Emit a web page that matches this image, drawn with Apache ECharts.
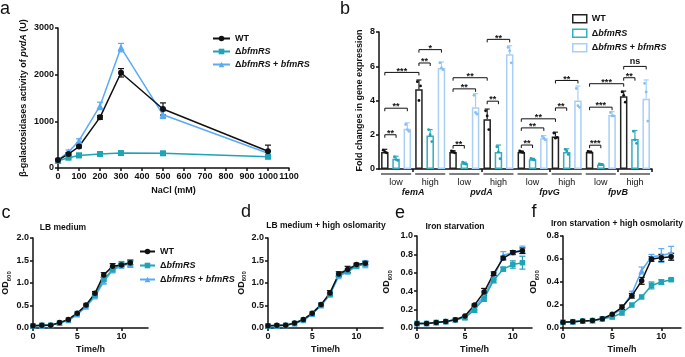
<!DOCTYPE html>
<html>
<head>
<meta charset="utf-8">
<script src="https://cdn.jsdelivr.net/npm/echarts@6/dist/echarts.min.js"></script>
<style>
  html, body { margin: 0; padding: 0; background: #fff; }
  #chart { width: 685px; height: 357px; }
</style>
</head>
<body>
<div id="chart"></div>
<script>
// ---- panel a: beta-galactosidase vs NaCl ----
const naclConc = [0, 50, 100, 200, 300, 500, 1000];
const aWT = [170, 300, 460, 1085, 2040, 1265, 360];
const aWTErr = [15, 30, 30, 40, 90, 130, 130];
const aDelta = [155, 220, 270, 300, 320, 315, 240];
const aDeltaErr = [15, 25, 45, 30, 25, 25, 35];
const aComp = [170, 345, 585, 1330, 2580, 1140, 315];
const aCompErr = [15, 40, 40, 80, 90, 80, 60];

// ---- panel b: fold changes ----
const bCats = ['low', 'high', 'low', 'high', 'low', 'high', 'low', 'high'];
const bGenes = ['femA', 'pvdA', 'fpvG', 'fpvB'];
const bWT = [1.0, 4.65, 1.0, 2.9, 1.0, 1.9, 1.0, 4.25];
const bWTErr = [0.15, 0.55, 0.07, 0.6, 0.05, 0.25, 0.04, 0.3];
const bDelta = [0.6, 1.95, 0.33, 1.0, 0.57, 1.0, 0.27, 1.75];
const bDeltaErr = [0.15, 0.35, 0.07, 0.4, 0.05, 0.18, 0.04, 0.5];
const bComp = [2.35, 5.9, 3.6, 6.7, 1.8, 4.0, 3.15, 4.1];
const bCompErr = [0.35, 0.35, 0.8, 0.5, 0.15, 0.85, 0.2, 1.1];
const bWTPts = [[1.1, 0.95, 1.0], [5.1, 4.85, 4.0], [1.05, 0.95, 1.0], [3.4, 2.3, 3.1],
  [1.05, 0.97, 1.0], [2.1, 1.85, 1.8], [1.03, 0.98, 1.0], [4.5, 3.9, 4.3]];
const bDeltaPts = [[0.7, 0.5, 0.55], [2.3, 1.6, 2.0], [0.4, 0.28, 0.33], [1.3, 0.6, 1.0],
  [0.62, 0.53, 0.57], [1.15, 0.85, 1.05], [0.3, 0.25, 0.27], [2.2, 1.5, 1.7]];
const bCompPts = [[2.6, 2.2, 2.3], [6.2, 5.8, 5.9], [4.3, 3.2, 3.3], [7.1, 6.2, 6.9],
  [1.9, 1.7, 1.8], [4.7, 3.6, 3.7], [3.3, 3.1, 3.1], [5.0, 2.8, 4.5]];
// [fromCategory, fromSeries, toCategory, toSeries, height]
const bBrackets = [
  [0, 0, 0, 1, 2.0], [0, 0, 0, 2, 3.55], [0, 0, 1, 0, 5.64], [1, 0, 1, 1, 6.19], [1, 0, 1, 2, 6.97],
  [2, 0, 2, 1, 1.37], [2, 0, 2, 2, 4.68], [2, 0, 3, 0, 5.33], [3, 0, 3, 1, 3.96], [3, 0, 3, 2, 7.57],
  [4, 0, 4, 1, 1.40], [4, 0, 4, 2, 2.4], [4, 0, 5, 0, 2.93], [5, 0, 5, 1, 3.57], [5, 0, 5, 2, 5.17],
  [6, 0, 6, 1, 1.39], [6, 0, 6, 2, 3.61], [6, 0, 7, 0, 4.98], [7, 0, 7, 1, 5.33], [7, 0, 7, 2, 5.99]
];
const bBracketLabels = ['**', '**', '***', '**', '*', '**', '**', '**', '**', '**',
  '**', '**', '**', '**', '**', '***', '***', '***', '**', 'ns'];

// ---- panels c-f: growth curves ----
const hours = [0, 1, 2, 3, 4, 5, 6, 7, 8, 9, 10, 11];
const cWT = [0.05, 0.06, 0.06, 0.12, 0.19, 0.33, 0.51, 0.77, 1.18, 1.37, 1.40, 1.45];
const cDelta = [0.05, 0.06, 0.06, 0.11, 0.18, 0.32, 0.50, 0.73, 1.08, 1.30, 1.43, 1.44];
const cComp = [0.05, 0.05, 0.06, 0.11, 0.17, 0.30, 0.47, 0.70, 1.03, 1.28, 1.38, 1.43];
const cWTErr = [0, 0, 0, 0, 0, 0, 0.02, 0.04, 0.05, 0.06, 0.03, 0.04];
const cDeltaErr = [0, 0, 0, 0, 0, 0, 0, 0.03, 0.04, 0.03, 0.04, 0.08];
const cCompErr = [0, 0, 0, 0, 0, 0, 0, 0.03, 0.04, 0.04, 0.04, 0.08];

const dWT = [0.05, 0.06, 0.06, 0.11, 0.19, 0.33, 0.52, 0.78, 1.20, 1.30, 1.41, 1.44];
const dDelta = [0.05, 0.05, 0.06, 0.10, 0.18, 0.32, 0.51, 0.75, 1.18, 1.27, 1.38, 1.43];
const dComp = [0.05, 0.05, 0.06, 0.10, 0.17, 0.31, 0.50, 0.74, 1.15, 1.25, 1.37, 1.42];
const dWTErr = [0, 0, 0, 0, 0, 0, 0.03, 0.05, 0.05, 0.07, 0.03, 0.03];
const dDeltaErr = [0, 0, 0, 0, 0, 0, 0, 0.03, 0.03, 0.04, 0.03, 0.05];
const dCompErr = [0, 0, 0, 0, 0, 0, 0, 0.03, 0.03, 0.04, 0.04, 0.08];

const eWT = [0.05, 0.05, 0.06, 0.07, 0.09, 0.13, 0.25, 0.39, 0.59, 0.76, 0.82, 0.84];
const eDelta = [0.05, 0.05, 0.06, 0.07, 0.09, 0.11, 0.20, 0.32, 0.52, 0.64, 0.69, 0.71];
const eComp = [0.05, 0.05, 0.06, 0.07, 0.09, 0.12, 0.22, 0.35, 0.55, 0.79, 0.82, 0.85];
const eWTErr = [0, 0, 0, 0, 0, 0, 0.01, 0.04, 0.02, 0.02, 0.02, 0.03];
const eDeltaErr = [0, 0, 0, 0, 0, 0, 0.03, 0.03, 0.03, 0.02, 0.04, 0.07];
const eCompErr = [0, 0, 0, 0, 0, 0, 0.02, 0.02, 0.02, 0.04, 0.02, 0.04];

const fWT = [0.05, 0.055, 0.06, 0.065, 0.08, 0.12, 0.18, 0.28, 0.41, 0.60, 0.61, 0.62];
const fDelta = [0.05, 0.055, 0.06, 0.065, 0.08, 0.095, 0.13, 0.20, 0.27, 0.37, 0.40, 0.42];
const fComp = [0.05, 0.055, 0.06, 0.065, 0.08, 0.11, 0.17, 0.30, 0.50, 0.62, 0.63, 0.65];
const fWTErr = [0, 0, 0, 0, 0, 0, 0.02, 0.02, 0.03, 0.02, 0.03, 0.03];
const fDeltaErr = [0, 0, 0, 0, 0, 0, 0, 0, 0, 0.03, 0.02, 0.01];
const fCompErr = [0, 0, 0, 0, 0, 0, 0, 0.02, 0.03, 0.02, 0.06, 0.06];

const FONT = '"Liberation Sans", Arial, sans-serif';
const INK = '#111';
const TEAL = '#1fa3b6';
const BLUE = '#5aaaf6';
const BAR_TEAL = '#34aebe';
const BAR_BLUE = '#a9cff7';
const DOT_BLUE = '#86bff4';
const BAR_W = 7.5;
const BAR_STEP = BAR_W * 1.5;

const rich = {
  b: { fontSize: 9, fontWeight: 'bold', fontFamily: FONT, color: INK },
  i: { fontSize: 9, fontWeight: 'bold', fontStyle: 'italic', fontFamily: FONT, color: INK },
  n: { fontSize: 9, fontFamily: FONT, color: INK },
  ni: { fontSize: 9, fontStyle: 'italic', fontFamily: FONT, color: INK },
  od: { fontSize: 9, fontWeight: 'bold', fontFamily: FONT, color: INK, verticalAlign: 'bottom', padding: [0, 0, 2, 0] },
  sub: { fontSize: 6, fontWeight: 'bold', fontFamily: FONT, color: INK, verticalAlign: 'bottom' }
};
const legendText = {
  WT: '{b|WT}',
  D: '{b|Δ}{i|bfmRS}',
  C: '{b|Δ}{i|bfmRS}{b| + }{i|bfmRS}'
};

function axis(extra) {
  return echarts.util.merge({
    axisLine: { show: true, onZero: false, lineStyle: { color: INK, width: 1.5 } },
    axisTick: { show: true, length: 3, lineStyle: { color: INK, width: 1.5 } },
    axisLabel: { color: INK, fontSize: 9, fontWeight: 'bold', fontFamily: FONT, margin: 4,
      showMinLabel: true, showMaxLabel: true, hideOverlap: false },
    splitLine: { show: false },
    nameTextStyle: { color: INK, fontSize: 9, fontWeight: 'bold', fontFamily: FONT, rich: rich }
  }, extra, true);
}

function lineSeries(name, xs, ys, color, symbol, size, xi, yi) {
  return {
    name: name, type: 'line', xAxisIndex: xi, yAxisIndex: yi,
    data: xs.map((x, i) => [x, ys[i]]),
    symbol: symbol, symbolSize: size, showAllSymbol: true,
    lineStyle: { color: color, width: 1.5 }, itemStyle: { color: color },
    z: 3, silent: true
  };
}

function errSeries(xs, ys, errs, color, xi, yi) {
  return {
    type: 'custom', xAxisIndex: xi, yAxisIndex: yi, z: 2, silent: true,
    data: xs.map((x, i) => [x, ys[i], errs[i]]).filter(d => d[2] > 0),
    renderItem: function (params, api) {
      const x = api.value(0), y = api.value(1), e = api.value(2);
      const top = api.coord([x, y + e]);
      const bot = api.coord([x, Math.max(y - e, 0)]);
      const st = { stroke: color, lineWidth: 1.2 };
      return {
        type: 'group', children: [
          { type: 'line', shape: { x1: top[0], y1: top[1], x2: bot[0], y2: bot[1] }, style: st },
          { type: 'line', shape: { x1: top[0] - 3, y1: top[1], x2: top[0] + 3, y2: top[1] }, style: st },
          { type: 'line', shape: { x1: bot[0] - 3, y1: bot[1], x2: bot[0] + 3, y2: bot[1] }, style: st }
        ]
      };
    }
  };
}

function barSeries(name, vals, border) {
  return {
    name: name, type: 'bar', xAxisIndex: 1, yAxisIndex: 1, data: vals,
    barWidth: BAR_W, barGap: '50%', z: 2, silent: true,
    itemStyle: { color: '#fff', borderColor: border, borderWidth: 1.5 }
  };
}

function barExtras(means, errs, pts, color, dotColor, slot) {
  return {
    type: 'custom', xAxisIndex: 1, yAxisIndex: 1, z: 4, silent: true,
    data: means.map((m, i) => [i, m, errs[i], pts[i][0], pts[i][1], pts[i][2]]),
    renderItem: function (params, api) {
      const i = api.value(0);
      const base = api.coord([i, api.value(1)]);
      const top = api.coord([i, api.value(1) + api.value(2)]);
      const x = base[0] + (slot - 1) * BAR_STEP;
      const st = { stroke: color, lineWidth: 1.2 };
      const kids = [
        { type: 'line', shape: { x1: x, y1: base[1], x2: x, y2: top[1] }, style: st },
        { type: 'line', shape: { x1: x - 2.5, y1: top[1], x2: x + 2.5, y2: top[1] }, style: st }
      ];
      const jit = [-1.6, 1.6, 0];
      for (let k = 0; k < 3; k++) {
        const p = api.coord([i, api.value(3 + k)]);
        kids.push({ type: 'circle', shape: { cx: x + jit[k], cy: p[1], r: 1.4 }, style: { fill: dotColor } });
      }
      return { type: 'group', children: kids };
    }
  };
}

const growthAxes = [
  { max: 13, y: [0, 2, 0.5], gap: 21 },
  { max: 13, y: [0, 2, 0.5], gap: 20 },
  { max: 12, y: [0, 1, 0.2], gap: 24 },
  { max: 12, y: [0, 0.8, 0.2], gap: 23 }
];
const growthData = [
  [cWT, cDelta, cComp, cWTErr, cDeltaErr, cCompErr],
  [dWT, dDelta, dComp, dWTErr, dDeltaErr, dCompErr],
  [eWT, eDelta, eComp, eWTErr, eDeltaErr, eCompErr],
  [fWT, fDelta, fComp, fWTErr, fDeltaErr, fCompErr]
];
const panelKeys = ['c', 'd', 'e', 'f'];

const xAxes = [
  axis({ gridIndex: 0, type: 'value', min: 0, max: 1100, interval: 100,
    axisLabel: { formatter: (v) => String(v) },
    name: 'NaCl (mM)', nameLocation: 'middle', nameGap: 18 }),
  axis({ gridIndex: 1, type: 'category', data: bCats, position: 'bottom',
    axisTick: { interval: (i) => i % 2 === 1, length: 3 },
    axisLabel: { fontWeight: 'normal', margin: 9, interval: 0 } }),
  axis({ gridIndex: 1, type: 'category', data: bGenes, position: 'bottom',
    axisLine: { show: false }, axisTick: { show: false },
    axisLabel: { fontStyle: 'italic', margin: 19, interval: 0 } })
];
const yAxes = [
  axis({ gridIndex: 0, type: 'value', min: 0, max: 3000, interval: 1000,
    axisLabel: { formatter: (v) => String(v) },
    name: '{n|β-galactosidases activity of }{ni|pvdA}{n| (U)}', nameLocation: 'middle', nameGap: 30 }),
  axis({ gridIndex: 1, type: 'value', min: 0, max: 8, interval: 2,
    name: 'Fold changes in gene expression', nameLocation: 'middle', nameGap: 15 })
];
growthAxes.forEach((g, k) => {
  xAxes.push(axis({ gridIndex: k + 2, type: 'value', min: 0, max: g.max,
    axisTick: { customValues: [0, 5, 10] }, axisLabel: { customValues: [0, 5, 10] },
    name: 'Time/h', nameLocation: 'middle', nameGap: 17 }));
  yAxes.push(axis({ gridIndex: k + 2, type: 'value', min: g.y[0], max: g.y[1], interval: g.y[2],
    axisLabel: { formatter: (v) => v.toFixed(1) },
    name: '{od|OD}{sub|600}', nameLocation: 'middle', nameGap: g.gap }));
});

const series = [
  errSeries(naclConc, aComp, aCompErr, BLUE, 0, 0),
  errSeries(naclConc, aDelta, aDeltaErr, TEAL, 0, 0),
  errSeries(naclConc, aWT, aWTErr, INK, 0, 0),
  lineSeries('a:C', naclConc, aComp, BLUE, 'triangle', 7, 0, 0),
  lineSeries('a:D', naclConc, aDelta, TEAL, 'rect', 6, 0, 0),
  lineSeries('a:WT', naclConc, aWT, INK, 'circle', 6, 0, 0),
  barSeries('b:WT', bWT, '#222'),
  barSeries('b:D', bDelta, BAR_TEAL),
  barSeries('b:C', bComp, BAR_BLUE),
  barExtras(bWT, bWTErr, bWTPts, '#222', INK, 0),
  barExtras(bDelta, bDeltaErr, bDeltaPts, BAR_TEAL, TEAL, 1),
  barExtras(bComp, bCompErr, bCompPts, BAR_BLUE, DOT_BLUE, 2),
  {
    // significance brackets
    type: 'custom', xAxisIndex: 1, yAxisIndex: 1, z: 5, silent: true,
    data: bBrackets,
    renderItem: function (params, api) {
      const p1 = api.coord([api.value(0), api.value(4)]);
      const p2 = api.coord([api.value(2), api.value(4)]);
      const x1 = p1[0] + (api.value(1) - 1) * BAR_STEP;
      const x2 = p2[0] + (api.value(3) - 1) * BAR_STEP;
      const y = p1[1];
      const lab = bBracketLabels[params.dataIndex];
      return {
        type: 'group', children: [
          { type: 'polyline', shape: { points: [[x1, y + 3], [x1, y], [x2, y], [x2, y + 3]] },
            style: { stroke: INK, lineWidth: 1, fill: null } },
          { type: 'text', x: (x1 + x2) / 2, y: lab === 'ns' ? y - 5 : y - 1.2,
            style: { text: lab, fontSize: 9, fontWeight: 'bold', fontFamily: FONT, fill: INK,
              textAlign: 'center', textVerticalAlign: 'middle' } }
        ]
      };
    }
  },
  {
    // group underlines below the category axis
    type: 'custom', xAxisIndex: 1, yAxisIndex: 1, z: 1, silent: true,
    data: bCats.map((c, i) => [i, 0]),
    renderItem: function (params, api) {
      const p = api.coord([api.value(0), 0]);
      const bw = api.size([1, 0])[0];
      return { type: 'line', shape: { x1: p[0] - bw / 2 + 2, y1: p[1] + 5, x2: p[0] + bw / 2 - 2, y2: p[1] + 5 },
        style: { stroke: '#555', lineWidth: 1.5 } };
    }
  }
];
growthData.forEach((d, k) => {
  const ax = k + 3, ay = k + 2, key = panelKeys[k];
  series.push(errSeries(hours, d[2], d[5], BLUE, ax, ay));
  series.push(errSeries(hours, d[1], d[4], TEAL, ax, ay));
  series.push(errSeries(hours, d[0], d[3], INK, ax, ay));
  series.push(lineSeries(key + ':C', hours, d[2], BLUE, 'triangle', 6, ax, ay));
  series.push(lineSeries(key + ':D', hours, d[1], TEAL, 'rect', 5.5, ax, ay));
  series.push(lineSeries(key + ':WT', hours, d[0], INK, 'circle', 5.5, ax, ay));
});

function legendFmt(name) { return legendText[name.split(':')[1]]; }

function label(text, x, y, size, weight) {
  return { type: 'text', x: x, y: y, silent: true,
    style: { text: text, fontSize: size, fontWeight: weight, fontFamily: FONT, fill: INK,
      textAlign: 'center', textVerticalAlign: 'middle' } };
}

const chart = echarts.init(document.getElementById('chart'));
chart.setOption({
  animation: false,
  textStyle: { fontFamily: FONT },
  grid: [
    { left: 58, top: 28, width: 231, height: 140 },
    { left: 379, top: 32, width: 273, height: 137 },
    { left: 33, top: 238, width: 115, height: 90 },
    { left: 268, top: 238, width: 115, height: 90 },
    { left: 417, top: 236, width: 115, height: 92 },
    { left: 563, top: 236, width: 118, height: 92 }
  ],
  xAxis: xAxes,
  yAxis: yAxes,
  legend: [
    { left: 207, top: 29, orient: 'vertical', itemWidth: 17, itemHeight: 7, itemGap: 4,
      data: ['a:WT', 'a:D', 'a:C'], formatter: legendFmt, selectedMode: false,
      textStyle: { rich: rich } },
    { left: 567, top: 9, orient: 'vertical', itemWidth: 14, itemHeight: 8, itemGap: 5,
      icon: 'rect', selectedMode: false, formatter: legendFmt, textStyle: { rich: rich },
      data: [
        { name: 'b:WT', itemStyle: { color: '#fff', borderColor: '#222', borderWidth: 1.5 } },
        { name: 'b:D', itemStyle: { color: '#fff', borderColor: BAR_TEAL, borderWidth: 1.5 } },
        { name: 'b:C', itemStyle: { color: '#fff', borderColor: BAR_BLUE, borderWidth: 1.5 } }
      ] },
    { left: 134, top: 242, orient: 'vertical', itemWidth: 15, itemHeight: 7, itemGap: 5,
      data: ['c:WT', 'c:D', 'c:C'], formatter: legendFmt, selectedMode: false,
      textStyle: { rich: rich } }
  ],
  graphic: [
    label('a', 5, 9, 18, 'normal'),
    label('b', 345, 9, 18, 'normal'),
    label('c', 6, 213, 18, 'normal'),
    label('d', 246, 212, 18, 'normal'),
    label('e', 400, 213, 18, 'normal'),
    label('f', 534, 212, 18, 'normal'),
    label('LB medium', 63, 228, 8.5, 'bold'),
    label('LB medium + high oslomarity', 326, 226, 8.5, 'bold'),
    label('Iron starvation', 455, 227, 8.5, 'bold'),
    label('Iron starvation + high osmolarity', 617, 224, 8.5, 'bold')
  ],
  series: series
});
</script>
</body>
</html>
